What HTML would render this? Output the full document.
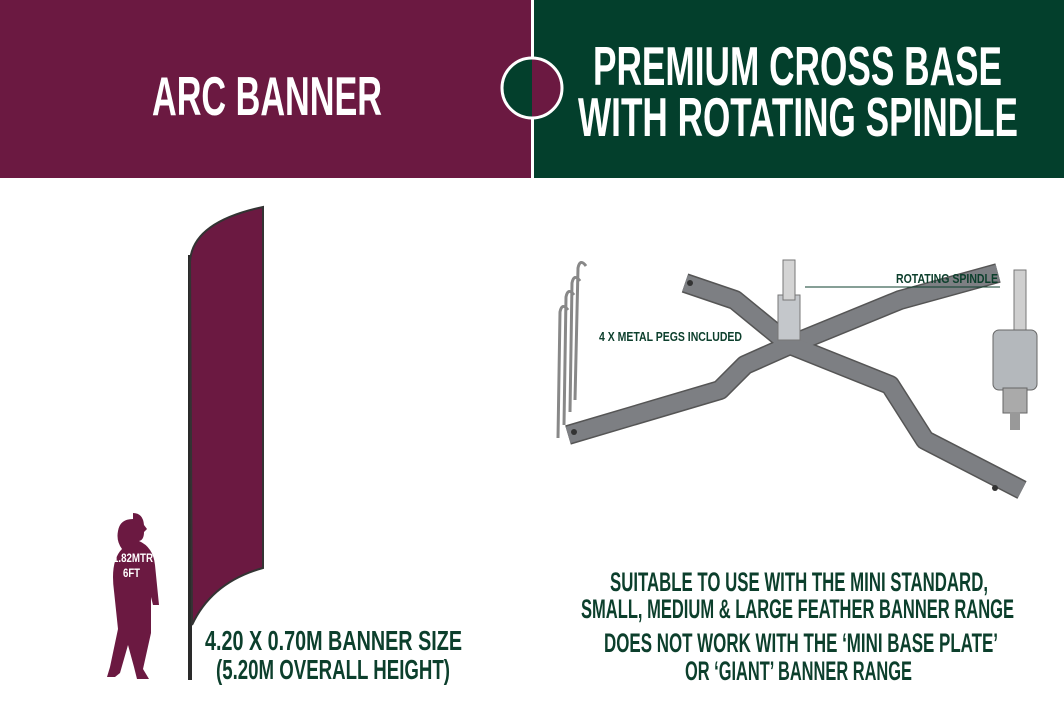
<!DOCTYPE html>
<html><head><style>
body{margin:0;width:1064px;height:710px;background:#fff;overflow:hidden;position:relative}
svg text{font-family:"Liberation Sans",sans-serif;font-weight:bold}
</style></head><body>
<svg style="position:absolute;left:0;top:0" width="1064" height="710">
<rect x="0" y="0" width="531" height="178" fill="#6b1941"/>
<rect x="534" y="0" width="530" height="178" fill="#033f2c"/>
<rect x="531" y="0" width="3" height="178" fill="#fff"/>
<path d="M532 58 A30 30 0 0 0 532 118Z" fill="#033f2c"/>
<path d="M532 58 A30 30 0 0 1 532 118Z" fill="#6b1941"/>
<circle cx="532" cy="88" r="30" fill="none" stroke="#fff" stroke-width="3"/>
<g fill="#fff">
<text x="152" y="115" font-size="55" textLength="230" lengthAdjust="spacingAndGlyphs">ARC BANNER</text>
<text x="593" y="85" font-size="55" textLength="409" lengthAdjust="spacingAndGlyphs">PREMIUM CROSS BASE</text>
<text x="578" y="136" font-size="55" textLength="440" lengthAdjust="spacingAndGlyphs">WITH ROTATING SPINDLE</text>
</g>
<!-- banner -->
<rect x="188" y="255" width="4" height="425" fill="#2a2a2a"/>
<path d="M263 207 L263 568 Q212 582 192 625 L190 262 Q192 222 263 207Z" fill="#6b1941" stroke="#333" stroke-width="2"/>
<!-- person -->
<path d="M133 513 q10 0 11 12 l3 4 -3 3 q0 8 -5 9 q14 6 16 24 l4 40 -6 0 -2 -8 0 36 -8 36 6 10 -12 0 -3 -12 -6 -22 -8 28 -5 4 -8 0 3 -10 8 -38 -4 -38 q-4 -30 8 -42 q-6 -8 -4 -18 q2 -12 15 -12Z" fill="#6b1941"/>
<g fill="#fff">
<text x="113" y="562" font-size="12" textLength="40" lengthAdjust="spacingAndGlyphs">1.82MTR</text>
<text x="123" y="577" font-size="12" textLength="17" lengthAdjust="spacingAndGlyphs">6FT</text>
</g>
<!-- pegs -->
<g fill="none" stroke="#888" stroke-width="3">
<path d="M575 400 L578 268 q2 -10 8 -2"/>
<path d="M570 412 L572 283 q2 -10 8 -2"/>
<path d="M564 425 L566 297 q2 -10 8 -2"/>
<path d="M558 438 L560 312 q2 -10 8 -2"/>
</g>
<!-- cross base -->
<g fill="none" stroke-linejoin="round">
<polyline points="568,435 720,390 745,365 790,345 900,300 998,273" stroke="#555" stroke-width="20"/>
<polyline points="685,283 735,300 790,345 890,385 925,440 1022,490" stroke="#555" stroke-width="20"/>
<polyline points="568,435 720,390 745,365 790,345 900,300 998,273" stroke="#7d7f83" stroke-width="17"/>
<polyline points="685,283 735,300 790,345 890,385 925,440 1022,490" stroke="#7d7f83" stroke-width="17"/>
</g>
<circle cx="574" cy="432" r="3" fill="#333"/>
<circle cx="995" cy="488" r="3" fill="#333"/>
<circle cx="690" cy="283" r="3" fill="#333"/>
<rect x="778" y="295" width="22" height="45" fill="#c4c7cb" stroke="#777"/>
<rect x="783" y="260" width="12" height="40" fill="#d4d4d4" stroke="#777"/>
<line x1="805" y1="287" x2="1000" y2="287" stroke="#0c3f2c" stroke-width="1"/>
<!-- spindle -->
<rect x="1014" y="270" width="12" height="62" fill="#cfcfcf" stroke="#777"/>
<rect x="993" y="330" width="44" height="60" rx="6" fill="#b4b8bc" stroke="#666"/>
<rect x="1003" y="388" width="24" height="25" fill="#aaa" stroke="#666"/>
<rect x="1010" y="412" width="10" height="18" fill="#999"/>
<g fill="#0c3f2c">
<text x="599" y="341" font-size="13" textLength="143" lengthAdjust="spacingAndGlyphs">4 X METAL PEGS INCLUDED</text>
<text x="896" y="283" font-size="13" textLength="102" lengthAdjust="spacingAndGlyphs">ROTATING SPINDLE</text>
<text x="205" y="650" font-size="28" textLength="257" lengthAdjust="spacingAndGlyphs">4.20 X 0.70M BANNER SIZE</text>
<text x="216" y="679" font-size="28" textLength="234" lengthAdjust="spacingAndGlyphs">(5.20M OVERALL HEIGHT)</text>
<text x="610" y="591" font-size="27" textLength="378" lengthAdjust="spacingAndGlyphs">SUITABLE TO USE WITH THE MINI STANDARD,</text>
<text x="581" y="618" font-size="27" textLength="433" lengthAdjust="spacingAndGlyphs">SMALL, MEDIUM &amp; LARGE FEATHER BANNER RANGE</text>
<text x="604" y="652" font-size="27" textLength="394" lengthAdjust="spacingAndGlyphs">DOES NOT WORK WITH THE ‘MINI BASE PLATE’</text>
<text x="685" y="680" font-size="27" textLength="227" lengthAdjust="spacingAndGlyphs">OR ‘GIANT’ BANNER RANGE</text>
</g>
</svg>
</body></html>
